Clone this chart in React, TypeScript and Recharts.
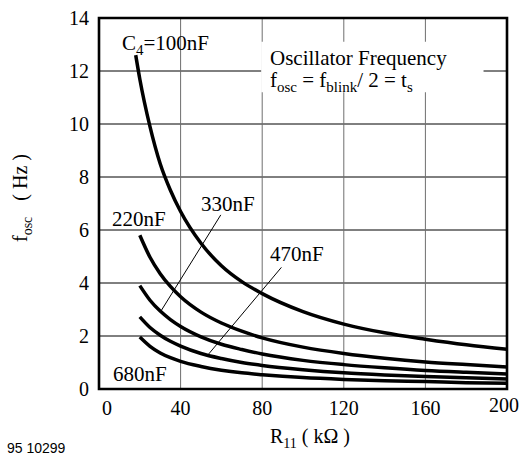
import React from 'react';
import {
  LineChart,
  Line,
  XAxis,
  YAxis,
  CartesianGrid,
  ReferenceArea,
  ReferenceLine,
} from 'recharts';

// R11 in kOhm
const resistance = [18, 20, 25, 30, 35, 40, 50, 60, 70, 80, 100, 120, 140, 160, 180, 200];

// f_osc in Hz, one list per C4 value (null = curve not drawn there)
const c100 = [12.6, 11.7, 9.9, 8.5, 7.5, 6.7, 5.5, 4.65, 4.05, 3.6, 2.92, 2.45, 2.12, 1.88, 1.67, 1.5];
const c220 = [null, 5.8, 4.97, 4.35, 3.87, 3.48, 2.9, 2.49, 2.18, 1.93, 1.58, 1.34, 1.16, 1.02, 0.92, 0.83];
const c330 = [null, 3.9, 3.35, 2.94, 2.62, 2.36, 1.97, 1.69, 1.49, 1.32, 1.08, 0.92, 0.8, 0.7, 0.63, 0.57];
const c470 = [null, 2.72, 2.32, 2.03, 1.8, 1.62, 1.34, 1.15, 1.0, 0.89, 0.73, 0.61, 0.53, 0.47, 0.42, 0.38];
const c680 = [null, 1.96, 1.61, 1.36, 1.18, 1.04, 0.85, 0.71, 0.61, 0.54, 0.43, 0.36, 0.31, 0.28, 0.24, 0.22];

const xTicks = [0, 40, 80, 120, 160, 200];
const yTicks = [0, 2, 4, 6, 8, 10, 12, 14];

const data = resistance.map((r, i) => ({
  r,
  c100: c100[i],
  c220: c220[i],
  c330: c330[i],
  c470: c470[i],
  c680: c680[i],
}));

const serif = 'Times New Roman, Times, Liberation Serif, Noto Serif, DejaVu Serif, serif';

const curveKeys = ['c100', 'c220', 'c330', 'c470', 'c680'];

// x tick: "0" pushed right off the frame, "200" lifted a little, as in the original
const XTick = (props: any) => {
  const { x, y, payload } = props;
  const v = payload.value;
  const dx = v === 0 ? 8 : v === 200 ? -3 : 0;
  const dy = v === 200 ? -3 : 0;
  return (
    <text x={x + dx} y={y + dy} dy="0.71em" textAnchor="middle" fontSize={20} fill="#000" style={{ fontFamily: serif }}>
      {v}
    </text>
  );
};

const YTick = (props: any) => {
  const { x, y, payload } = props;
  return (
    <text x={x} y={y} dy="0.355em" textAnchor="end" fontSize={20} fill="#000" style={{ fontFamily: serif }}>
      {payload.value}
    </text>
  );
};

export default function App() {
  return (
    <div style={{ position: 'absolute', left: 0, top: 0, width: 525, height: 457, background: '#fff', fontFamily: serif }}>
      <LineChart
        width={525}
        height={457}
        data={data}
        margin={{ top: 18, right: 18, left: 39, bottom: 38 }}
        style={{ fontFamily: serif }}
      >
        {/* horizontal grid black, vertical grid grey */}
        <CartesianGrid vertical={false} stroke="#000" strokeWidth={1} />
        <CartesianGrid horizontal={false} stroke="#6e6e6e" strokeWidth={1} />

        <XAxis
          type="number"
          dataKey="r"
          domain={[0, 200]}
          ticks={xTicks}
          axisLine={false}
          tickLine={false}
          tickSize={0}
          tickMargin={12}
          height={30}
          tick={<XTick />}
          interval={0}
        />
        <YAxis
          type="number"
          domain={[0, 14]}
          ticks={yTicks}
          axisLine={false}
          tickLine={false}
          tickSize={0}
          tickMargin={10}
          width={60}
          tick={<YTick />}
          interval={0}
        />

        {/* white patch behind the title text */}
        <ReferenceArea x1={79.5} x2={188.5} y1={11.2} y2={13.1} fill="#fff" fillOpacity={1} stroke="none" />

        {/* leader lines */}
        <ReferenceLine segment={[{ x: 59.7, y: 6.57 }, { x: 30.2, y: 2.92 }]} stroke="#000" strokeWidth={1} />
        <ReferenceLine segment={[{ x: 89.4, y: 4.59 }, { x: 53.1, y: 1.26 }]} stroke="#000" strokeWidth={1} />

        {curveKeys.map((k) => (
          <Line
            key={k}
            type="monotone"
            dataKey={k}
            stroke="#000"
            strokeWidth={3.5}
            dot={false}
            isAnimationActive={false}
          />
        ))}

        {/* plot frame */}
        <ReferenceArea x1={0} x2={200} y1={0} y2={14} fill="none" stroke="#000" strokeWidth={2.6} />
      </LineChart>

      <svg
        width={525}
        height={457}
        style={{ position: 'absolute', left: 0, top: 0, pointerEvents: 'none', fontFamily: serif }}
        fill="#000"
      >
        <text x={122} y={50} fontSize={21}>
          C<tspan fontSize={15} dy={5}>4</tspan>
          <tspan dy={-5}>=100nF</tspan>
        </text>
        <text x={270} y={65} fontSize={21}>Oscillator Frequency</text>
        <text x={270} y={87} fontSize={21}>
          f<tspan fontSize={15} dy={5}>osc</tspan>
          <tspan dy={-5}> = f</tspan>
          <tspan fontSize={15} dy={5}>blink</tspan>
          <tspan dy={-5}>/ 2 = t</tspan>
          <tspan fontSize={15} dy={5}>s</tspan>
        </text>
        <text x={112} y={226} fontSize={21}>220nF</text>
        <text x={201} y={211} fontSize={21}>330nF</text>
        <text x={270} y={261} fontSize={21}>470nF</text>
        <text x={113} y={381} fontSize={21}>680nF</text>

        {/* y axis title */}
        <text transform="translate(27,242) rotate(-90)" fontSize={20}>
          f<tspan fontSize={14} dy={5}>osc</tspan>
          <tspan dy={-5} dx={16}>( Hz )</tspan>
        </text>

        {/* x axis title */}
        <text x={270} y={443} fontSize={20}>
          R<tspan fontSize={14} dy={5}>11</tspan>
          <tspan dy={-5}> ( kΩ )</tspan>
        </text>

        <text x={7} y={453} fontSize={14} style={{ fontFamily: 'Liberation Sans, Arial, sans-serif' }}>95 10299</text>
      </svg>
    </div>
  );
}
